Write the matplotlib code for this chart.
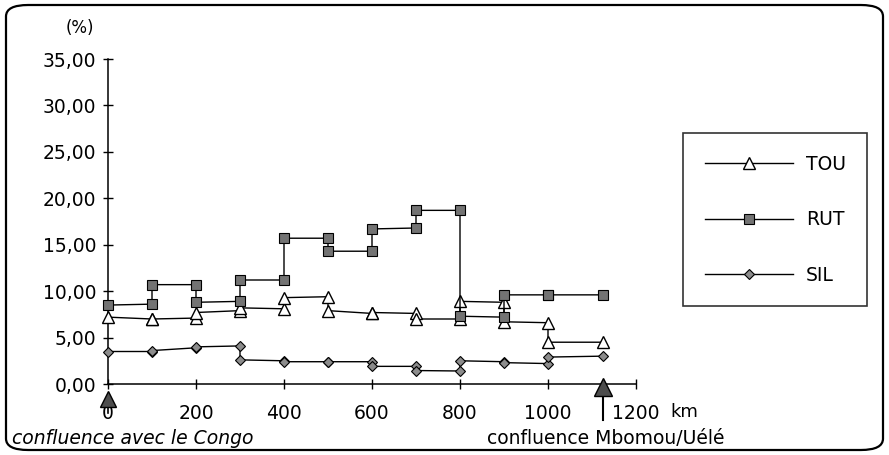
import numpy as np
import matplotlib
matplotlib.use("Agg")
import matplotlib.pyplot as plt
from matplotlib.patches import FancyBboxPatch
from matplotlib.ticker import FuncFormatter

# segment limits along the river (km from the Congo confluence)
seg_start = [0, 100, 200, 300, 400, 500, 600, 700, 800, 900, 1000]
seg_end = [100, 200, 300, 400, 500, 600, 700, 800, 900, 1000, 1125]

# value at start / end of each segment (%)
tou_start = [7.2, 7.0, 7.7, 8.2, 9.3, 7.9, 7.7, 7.0, 8.9, 6.7, 4.5]
tou_end = [7.0, 7.1, 7.9, 8.1, 9.4, 7.6, 7.6, 7.0, 8.8, 6.6, 4.5]
rut_start = [8.5, 10.7, 8.8, 11.2, 15.7, 14.3, 16.7, 18.7, 7.3, 9.6, 9.6]
rut_end = [8.6, 10.7, 8.9, 11.2, 15.7, 14.3, 16.8, 18.7, 7.2, 9.6, 9.6]
sil_start = [3.5, 3.6, 4.0, 2.6, 2.4, 2.4, 1.9, 1.45, 2.5, 2.3, 2.9]
sil_end = [3.5, 3.9, 4.1, 2.5, 2.4, 2.4, 1.9, 1.4, 2.4, 2.2, 3.0]

confluences = [0, 1125]
xticks = [0, 200, 400, 600, 800, 1000, 1200]
yticks = [0, 5, 10, 15, 20, 25, 30, 35]


def chain(a, b):
    out = []
    for s, e in zip(a, b):
        out += [s, e]
    return np.array(out)


x = chain(seg_start, seg_end)

plt.rcParams['font.family'] = ['DejaVu Sans']
fig = plt.figure(figsize=(8.89, 4.55), dpi=100)
ax = fig.add_axes([108/889, 1-384/455, 528/889, 325/455])

# rounded frame around the whole picture
fig.patches.append(FancyBboxPatch((6/889, 5/455), 877/889, 445/455,
                                  boxstyle="round,pad=0,rounding_size=0.025",
                                  transform=fig.transFigure, fill=False,
                                  edgecolor='black', linewidth=1.6))

ax.plot(x, chain(tou_start, tou_end), color='black', lw=1, marker='^',
        ms=9, mfc='white', mec='black', mew=1, label='TOU', clip_on=False, zorder=3)
ax.plot(x, chain(rut_start, rut_end), color='black', lw=1, marker='s',
        ms=7, mfc='0.45', mec='black', mew=0.8, label='RUT', clip_on=False, zorder=3)
ax.plot(x, chain(sil_start, sil_end), color='black', lw=1, marker='D',
        ms=5, mfc='0.55', mec='black', mew=0.8, label='SIL', clip_on=False, zorder=3)

# confluence arrows below the axis
tr = ax.get_xaxis_transform()
ax.plot([confluences[0]], [-0.045], marker='^', ms=11, color='0.3', mec='black',
        transform=tr, clip_on=False, zorder=4)
ax.plot([confluences[0], confluences[0]], [-0.03, -0.09], color='black', lw=1.2,
        transform=tr, clip_on=False)
ax.plot([confluences[1]], [-0.008], marker='^', ms=13, color='0.3', mec='black',
        transform=tr, clip_on=False, zorder=4)
ax.plot([confluences[1], confluences[1]], [-0.02, -0.11], color='black', lw=1.5,
        transform=tr, clip_on=False)

ax.set_xlim(0, 1200)
ax.set_ylim(0, 35)
ax.set_xticks(xticks)
ax.set_yticks(yticks)
ax.yaxis.set_major_formatter(FuncFormatter(lambda v, p: f"{v:.2f}".replace('.', ',')))
ax.tick_params(axis='both', direction='inout', length=7, width=1, labelsize=13.5)
ax.tick_params(axis='y', pad=5)
ax.tick_params(axis='x', pad=11)
for s in ['top', 'right']:
    ax.spines[s].set_visible(False)
for s in ['left', 'bottom']:
    ax.spines[s].set_linewidth(1.1)

fig.text(80/889, 1-28/455, "(%)", fontsize=12, ha='center', va='center')
fig.text(684/889, 1-412/455, "km", fontsize=13, ha='center', va='center')
fig.text(12/889, 1-438/455, "confluence avec le Congo", fontsize=13.5, style='italic',
         ha='left', va='center')
fig.text(487/889, 1-438/455, "confluence Mbomou/Uélé", fontsize=13.5,
         ha='left', va='center')

leg = ax.legend(loc='upper left', bbox_to_anchor=(683/889, 1-133/455),
                bbox_transform=fig.transFigure, fontsize=13.5, frameon=True,
                fancybox=False, handlelength=4.7, handletextpad=0.7,
                labelspacing=1.95, borderpad=1.15, borderaxespad=0)
leg.get_frame().set_edgecolor('black')
leg.get_frame().set_linewidth(1.2)

fig.savefig("out.png", dpi=100)
